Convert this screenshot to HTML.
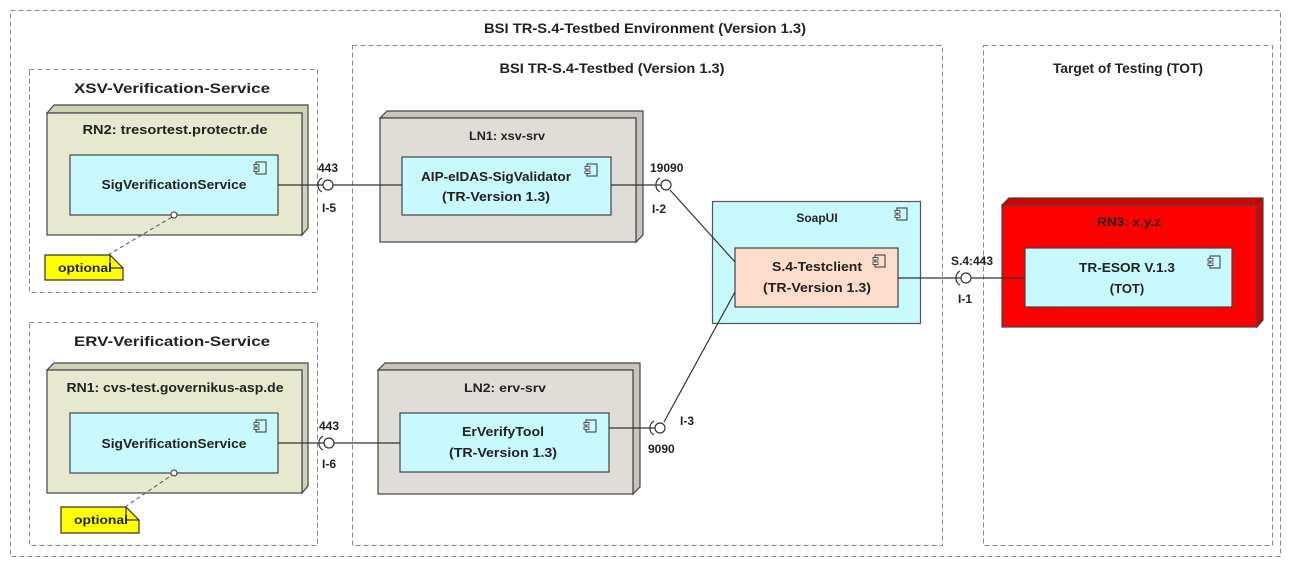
<!DOCTYPE html>
<html><head><meta charset="utf-8"><style>
html,body{margin:0;padding:0;background:#fff}
svg text{font-family:"Liberation Sans",sans-serif;font-weight:bold;fill:#222}
</style></head><body>
<svg width="1291" height="568" viewBox="0 0 1291 568" xmlns="http://www.w3.org/2000/svg">
<defs>
<g id="ci"><rect x="2" y="0" width="10" height="12" fill="none" stroke="#333" stroke-width="1"/><rect x="0" y="2.5" width="5" height="2.5" fill="#fff" stroke="#333" stroke-width="0.8"/><rect x="0" y="7" width="5" height="2.5" fill="#fff" stroke="#333" stroke-width="0.8"/></g>
</defs>
<g fill="none" stroke="#888" stroke-width="1" stroke-dasharray="5,3">
<rect x="10.5" y="10.5" width="1270" height="546"/>
<rect x="29.5" y="69.5" width="288" height="223"/>
<rect x="29.5" y="322.5" width="288" height="223"/>
<rect x="352.5" y="45.5" width="590" height="500"/>
<rect x="983.5" y="45.5" width="289" height="500"/>
</g>
<text x="645" y="33" font-size="14" text-anchor="middle" textLength="322" lengthAdjust="spacingAndGlyphs">BSI TR-S.4-Testbed Environment (Version 1.3)</text>
<text x="612" y="73" font-size="14" text-anchor="middle" textLength="225" lengthAdjust="spacingAndGlyphs">BSI TR-S.4-Testbed (Version 1.3)</text>
<text x="1128" y="73" font-size="14" text-anchor="middle" textLength="150" lengthAdjust="spacingAndGlyphs">Target of Testing (TOT)</text>
<text x="172" y="93" font-size="14" text-anchor="middle" textLength="196" lengthAdjust="spacingAndGlyphs">XSV-Verification-Service</text>
<text x="172" y="346" font-size="14" text-anchor="middle" textLength="196" lengthAdjust="spacingAndGlyphs">ERV-Verification-Service</text>

<!-- nodes -->
<g stroke="#444" stroke-width="1.2">
<polygon points="47,113 54,105 308,105 308,228 302,235 302,113" fill="#d0d2b8"/>
<rect x="47" y="113" width="255" height="122" fill="#e6e8d0"/>
<polygon points="47,370 54,363 308,363 308,486 302,493 302,370" fill="#d0d2b8"/>
<rect x="47" y="370" width="255" height="123" fill="#e6e8d0"/>
<polygon points="380,118 387,111 643,111 643,235 636,242 636,118" fill="#c8c4bd"/>
<rect x="380" y="118" width="256" height="124" fill="#e0ddd8"/>
<polygon points="378,370 385,363 640,363 640,487 633,494 633,370" fill="#c8c4bd"/>
<rect x="378" y="370" width="255" height="124" fill="#e0ddd8"/>
<polygon points="1002,205 1009,198 1263,198 1263,320 1257,327 1257,205" fill="#d00000"/>
<rect x="1002" y="205" width="255" height="122" fill="#ff0000"/>
</g>
<text x="175" y="134" font-size="13" text-anchor="middle" textLength="185" lengthAdjust="spacingAndGlyphs">RN2: tresortest.protectr.de</text>
<text x="175" y="392" font-size="13" text-anchor="middle" textLength="217" lengthAdjust="spacingAndGlyphs">RN1: cvs-test.governikus-asp.de</text>
<text x="507" y="140" font-size="12" text-anchor="middle" textLength="76" lengthAdjust="spacingAndGlyphs">LN1: xsv-srv</text>
<text x="505" y="392" font-size="12" text-anchor="middle" textLength="82" lengthAdjust="spacingAndGlyphs">LN2: erv-srv</text>
<text x="1129" y="226" font-size="12" text-anchor="middle" textLength="64" lengthAdjust="spacingAndGlyphs">RN3: x.y.z</text>

<!-- SoapUI -->
<rect x="712.5" y="201.5" width="208" height="122" fill="#c8fafd" stroke="#555" stroke-width="1.2"/>
<text x="817" y="222" font-size="12" text-anchor="middle">SoapUI</text>
<use href="#ci" x="895" y="208"/>

<!-- components -->
<g stroke="#444" stroke-width="1.2" fill="#c8fafd">
<rect x="70" y="155" width="208" height="60"/>
<rect x="70" y="413" width="208" height="60"/>
<rect x="402" y="157" width="209" height="58"/>
<rect x="400" y="413" width="209" height="59"/>
<rect x="735" y="248" width="163" height="59" fill="#fcdccb"/>
<rect x="1025" y="248" width="207" height="59"/>
</g>
<use href="#ci" x="254" y="162"/><use href="#ci" x="254" y="420"/>
<use href="#ci" x="585" y="164"/><use href="#ci" x="584" y="420"/>
<use href="#ci" x="873" y="255"/><use href="#ci" x="1208" y="256"/>
<text x="174" y="189" font-size="13" text-anchor="middle" textLength="145" lengthAdjust="spacingAndGlyphs">SigVerificationService</text>
<text x="174" y="448" font-size="13" text-anchor="middle" textLength="145" lengthAdjust="spacingAndGlyphs">SigVerificationService</text>
<text x="496" y="181" font-size="13" text-anchor="middle" textLength="150" lengthAdjust="spacingAndGlyphs">AIP-eIDAS-SigValidator</text>
<text x="496" y="201" font-size="13" text-anchor="middle" textLength="108" lengthAdjust="spacingAndGlyphs">(TR-Version 1.3)</text>
<text x="503" y="436" font-size="13" text-anchor="middle" textLength="82" lengthAdjust="spacingAndGlyphs">ErVerifyTool</text>
<text x="503" y="457" font-size="13" text-anchor="middle" textLength="108" lengthAdjust="spacingAndGlyphs">(TR-Version 1.3)</text>
<text x="817" y="271" font-size="13" text-anchor="middle" textLength="90" lengthAdjust="spacingAndGlyphs">S.4-Testclient</text>
<text x="817" y="292" font-size="13" text-anchor="middle" textLength="108" lengthAdjust="spacingAndGlyphs">(TR-Version 1.3)</text>
<text x="1127" y="272" font-size="13" text-anchor="middle" textLength="96" lengthAdjust="spacingAndGlyphs">TR-ESOR V.1.3</text>
<text x="1127" y="293" font-size="13" text-anchor="middle">(TOT)</text>

<!-- connectors -->
<g stroke="#333" stroke-width="1.2" fill="none">
<line x1="278" y1="185" x2="323" y2="185"/><line x1="331" y1="185" x2="402" y2="185"/>
<line x1="278" y1="443" x2="325" y2="443"/><line x1="333" y1="443" x2="400" y2="443"/>
<line x1="611" y1="185" x2="662" y2="185"/>
<line x1="609" y1="428" x2="656" y2="428"/>
<line x1="670" y1="190" x2="735" y2="262"/>
<line x1="664" y1="422" x2="735" y2="292"/>
<line x1="898" y1="278" x2="962" y2="278"/><line x1="970" y1="278" x2="1025" y2="278"/>
</g>
<g stroke="#333" stroke-width="1.2" fill="#fff">
<circle cx="328" cy="185" r="5"/><circle cx="329" cy="443" r="5"/>
<circle cx="666" cy="185" r="5"/><circle cx="660" cy="428" r="5"/><circle cx="966" cy="278" r="5"/>
</g>
<g stroke="#333" stroke-width="1.2" fill="none">
<path d="M322,178 A8,8 0 0 0 322,192"/><path d="M323,436 A8,8 0 0 0 323,450"/>
<path d="M660,178 A8,8 0 0 0 660,192"/><path d="M654,421 A8,8 0 0 0 654,435"/><path d="M960,271 A8,8 0 0 0 960,285"/>
</g>
<g font-size="12">
<text x="318" y="172">443</text><text x="322" y="212">I-5</text>
<text x="319" y="430">443</text><text x="322" y="468">I-6</text>
<text x="650" y="172">19090</text><text x="652" y="213">I-2</text>
<text x="648" y="453">9090</text><text x="680" y="425">I-3</text>
<text x="951" y="265">S.4:443</text><text x="958" y="303">I-1</text>
</g>

<!-- optional notes -->
<g stroke="#555" stroke-width="1" stroke-dasharray="4,3" fill="none">
<line x1="108" y1="255" x2="172" y2="217"/>
<line x1="125" y1="507" x2="172" y2="475"/>
</g>
<circle cx="174" cy="215" r="3" fill="#fff" stroke="#333"/>
<circle cx="174" cy="473" r="3" fill="#fff" stroke="#333"/>
<g stroke="#333" stroke-width="1.2" fill="#ffff00">
<polygon points="45,255 110,255 123,268 123,280 45,280"/>
<polyline points="110,255 110,268 123,268" fill="none"/>
<polygon points="61,507 126,507 139,520 139,533 61,533"/>
<polyline points="126,507 126,520 139,520" fill="none"/>
</g>
<text x="58" y="272" font-size="12" textLength="54" lengthAdjust="spacingAndGlyphs">optional</text>
<text x="74" y="524" font-size="12" textLength="54" lengthAdjust="spacingAndGlyphs">optional</text>
</svg>
</body></html>
